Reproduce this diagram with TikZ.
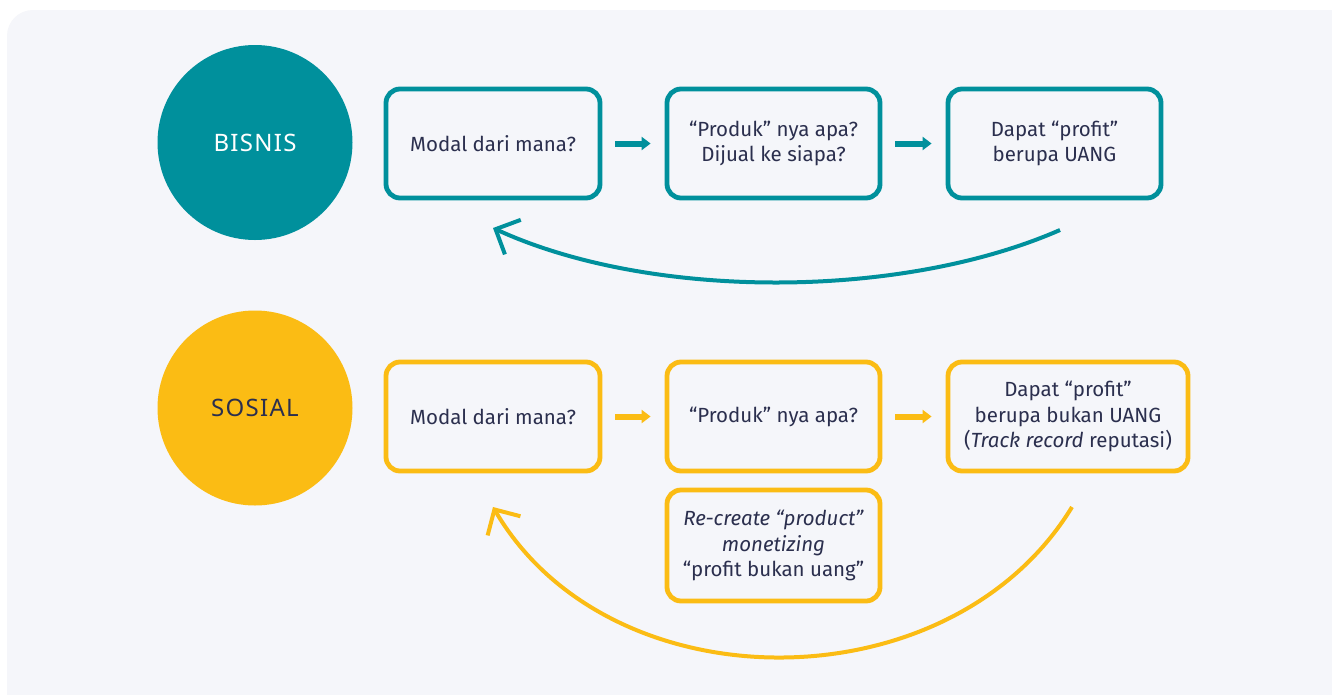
\documentclass[tikz,border=0pt]{standalone}
\usepackage{fontspec}
\setmainfont{Fira Sans}
\newfontfamily\circfont{Noto Sans}
\usetikzlibrary{arrows.meta}
\definecolor{teal1}{RGB}{0,144,156}
\definecolor{yel1}{RGB}{251,188,20}
\definecolor{bgc}{RGB}{245,246,250}
\definecolor{txt}{RGB}{43,47,78}
\newcommand{\lsp}{\kern1.3pt}
\tikzset{
  boxT/.style={draw=teal1, line width=4.8pt, rounded corners=14pt, fill=bgc, text=txt, align=center, font=\fontsize{20.5}{25.5}\selectfont, inner sep=0pt},
  boxY/.style={boxT, draw=yel1},
  circ/.style={circle, inner sep=0pt, minimum size=195pt, font=\circfont\fontsize{24}{26}\selectfont},
  smallT/.style={draw=teal1, line width=6pt, -{Triangle[length=9pt,width=13pt]}, shorten <=13pt, shorten >=14pt},
  smallY/.style={smallT, draw=yel1},
  bigT/.style={draw=teal1, line width=4pt, -{Straight Barb[length=19pt,width=38pt,line width=4pt]}},
  bigY/.style={bigT, draw=yel1},
}
\begin{document}
\begin{tikzpicture}[x=1pt,y=-1pt]
\useasboundingbox (0,0) rectangle (1332,694);
\clip (0,0) rectangle (1332,694);
\fill[white] (0,0) rectangle (1332,694);
\fill[bgc, rounded corners=26pt] (7,10) rectangle (1365,730);

\node[circ, fill=teal1, text=white] (bis) at (255,142.5) {B\lsp I\lsp S\lsp N\lsp I\lsp S};
\node[circ, fill=yel1, text=txt] (sos) at (255,408) {S\lsp O\lsp S\lsp I\lsp A\lsp L};

\node[boxT, minimum width=214pt, minimum height=109pt] (b1) at (493,143.5) {Modal dari mana?};
\node[boxT, minimum width=213pt, minimum height=109pt] (b2) at (773.5,143.5) {“Produk” nya apa?\\Dijual ke siapa?};
\node[boxT, minimum width=213pt, minimum height=109pt] (b3) at (1054.5,143.5) {Dapat “profit”\\berupa UANG};

\node[boxY, minimum width=214pt, minimum height=109pt] (s1) at (493,416.5) {Modal dari mana?};
\node[boxY, minimum width=213pt, minimum height=109pt] (s2) at (773.5,416.5) {“Produk” nya apa?};
\node[boxY, minimum width=240pt, minimum height=109pt] (s3) at (1068,416.5) {Dapat “profit”\\berupa bukan UANG\\(\textit{Track record} reputasi)};
\node[boxY, minimum width=213pt, minimum height=111pt] (s4) at (773.5,545.5) {\textit{Re-create “product”}\\\textit{monetizing}\\“profit bukan uang”};

\draw[smallT] (b1.east) -- (b2.west);
\draw[smallT] (b2.east) -- (b3.west);
\draw[smallY] (s1.east) -- (s2.west);
\draw[smallY] (s2.east) -- (s3.west);

\coordinate (ta) at (1060,230);
\coordinate (tb) at (493,228);
\coordinate (ya) at (1072,507);
\coordinate (yb) at (493,507);
\draw[bigT] (ta) .. controls (900,300) and (650,300) .. (tb);
\draw[bigY] (ya) .. controls (950,707) and (610,707) .. (yb);
\end{tikzpicture}
\end{document}
